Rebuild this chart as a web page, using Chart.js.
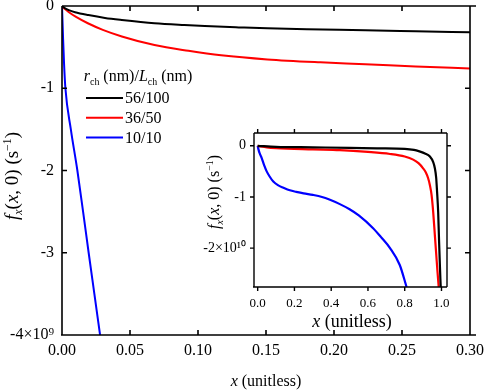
<!DOCTYPE html>
<html>
<head>
<meta charset="utf-8">
<script src="https://cdn.jsdelivr.net/npm/chart.js@4.4.1/dist/chart.umd.min.js"></script>
<style>
html, body { margin: 0; padding: 0; background: #fff; }
#wrap { position: relative; width: 484px; height: 392px; }
#main { position: absolute; left: 0; top: 0; }
#inset { position: absolute; left: 180px; top: 120px; }
</style>
</head>
<body>
<div id="wrap">
  <canvas id="main" width="484" height="392"></canvas>
  <canvas id="inset" width="290" height="215"></canvas>
</div>
<script>
// series: r_ch (nm) / L_ch (nm)
var seriesLabels = ['56/100', '36/50', '10/10'];
var seriesColors = ['#000000', '#ff0000', '#0000ff'];

// main panel, y in units of 1e9 s^-1
var mainX_56 = [0, 0.002, 0.005, 0.0096, 0.0194, 0.0316, 0.044, 0.068, 0.09, 0.105, 0.13, 0.151, 0.18, 0.223, 0.26, 0.30];
var mainY_56 = [0, -0.025, -0.05, -0.075, -0.11, -0.145, -0.17, -0.21, -0.232, -0.244, -0.26, -0.272, -0.282, -0.295, -0.307, -0.32];
var mainX_36 = [0, 0.002, 0.0046, 0.01, 0.019, 0.03, 0.044, 0.068, 0.093, 0.117, 0.151, 0.19, 0.223, 0.26, 0.30];
var mainY_36 = [0, -0.035, -0.07, -0.13, -0.21, -0.29, -0.37, -0.475, -0.545, -0.60, -0.65, -0.685, -0.707, -0.735, -0.76];
var mainX_10 = [0, 0.0008, 0.0015, 0.0025, 0.0065, 0.0113, 0.0155, 0.0196, 0.0238, 0.028];
var mainY_10 = [0, -0.4, -0.7, -1.0, -1.5, -2.0, -2.5, -3.0, -3.5, -4.0];

var mainXTicks = [0, 0.05, 0.10, 0.15, 0.20, 0.25, 0.30];
var mainXTickLabels = ['0.00', '0.05', '0.10', '0.15', '0.20', '0.25', '0.30'];
var mainYTicks = [0, -1, -2, -3, -4];
var mainYTickLabels = ['0', '-1', '-2', '-3', '-4×10⁹'];

// inset panel, y in units of 1e10 s^-1
var insetX_56 = [0, 0.1, 0.3, 0.5, 0.65, 0.8, 0.85, 0.88, 0.91, 0.937, 0.955, 0.964, 0.971, 0.976, 0.982, 0.987, 0.991, 0.994, 0.996];
var insetY_56 = [0, -0.02, -0.03, -0.04, -0.05, -0.06, -0.08, -0.11, -0.15, -0.21, -0.32, -0.44, -0.62, -0.9, -1.3, -1.88, -2.3, -2.6, -2.76];
var insetX_36 = [0, 0.05, 0.1, 0.3, 0.447, 0.6, 0.72, 0.8, 0.846, 0.875, 0.9, 0.915, 0.927, 0.937, 0.946, 0.955, 0.964, 0.972, 0.978, 0.985];
var insetY_36 = [0, -0.03, -0.045, -0.07, -0.085, -0.12, -0.16, -0.21, -0.27, -0.34, -0.44, -0.52, -0.63, -0.77, -0.96, -1.3, -1.75, -2.15, -2.45, -2.76];
var insetX_10 = [0, 0.005, 0.01, 0.022, 0.035, 0.049, 0.065, 0.085, 0.11, 0.14, 0.175, 0.21, 0.25, 0.30, 0.35, 0.39, 0.447, 0.5, 0.55, 0.628, 0.67, 0.72, 0.773, 0.81];
var insetY_10 = [0, -0.08, -0.14, -0.24, -0.38, -0.50, -0.60, -0.70, -0.77, -0.82, -0.87, -0.90, -0.93, -0.96, -1.0, -1.05, -1.14, -1.24, -1.36, -1.61, -1.78, -2.0, -2.33, -2.76];

var insetXTicks = [0, 0.2, 0.4, 0.6, 0.8, 1.0];
var insetXTickLabels = ['0.0', '0.2', '0.4', '0.6', '0.8', '1.0'];
var insetYTicks = [0, -1, -2];
var insetYTickLabels = ['0', '-1', '-2×10¹⁰'];

var SERIF = '"Liberation Serif", "Times New Roman", serif';

function pts(xs, ys) {
  return xs.map(function (x, i) { return { x: x, y: ys[i] }; });
}

function makeSets(xsList, ysList, width) {
  return xsList.map(function (xs, i) {
    return {
      label: seriesLabels[i],
      data: pts(xs, ysList[i]),
      borderColor: seriesColors[i],
      borderWidth: width,
      pointRadius: 0,
      fill: false,
      cubicInterpolationMode: 'monotone'
    };
  });
}

// draws text made of plain / italic / sub / sup pieces, centred on x
function drawRich(ctx, segs, x, y, size, rot) {
  var parts = segs.map(function (s) {
    var small = s[1].indexOf('sub') >= 0 || s[1].indexOf('sup') >= 0;
    var fs = small ? size * 0.62 : size;
    var font = (s[1].indexOf('i') === 0 ? 'italic ' : '') + fs + 'px ' + SERIF;
    ctx.font = font;
    var dy = s[1].indexOf('sub') >= 0 ? size * 0.22 : (s[1].indexOf('sup') >= 0 ? -size * 0.4 : 0);
    return { t: s[0], font: font, w: ctx.measureText(s[0]).width, dy: dy };
  });
  var total = parts.reduce(function (a, p) { return a + p.w; }, 0);
  ctx.save();
  ctx.translate(x, y);
  ctx.rotate(rot || 0);
  ctx.fillStyle = '#000';
  ctx.textBaseline = 'alphabetic';
  ctx.textAlign = 'left';
  var cx = -total / 2;
  parts.forEach(function (p) {
    ctx.font = p.font;
    ctx.fillText(p.t, cx, size * 0.33 + p.dy);
    cx += p.w;
  });
  ctx.restore();
}

var framePlugin = {
  id: 'frame',
  afterDraw: function (chart, args, o) {
    var ctx = chart.ctx, a = chart.chartArea;
    var xs = chart.scales.x, ys = chart.scales.y;
    var d = o.inward ? 1 : -1, L = o.len;
    ctx.save();
    ctx.strokeStyle = '#000';
    ctx.lineWidth = o.lw;
    ctx.beginPath();
    ctx.moveTo(a.left, a.top); ctx.lineTo(a.right + o.extend, a.top);
    ctx.moveTo(a.left - 1, a.bottom); ctx.lineTo(a.right + o.extend, a.bottom);
    ctx.moveTo(a.left, a.top); ctx.lineTo(a.left, a.bottom);
    ctx.moveTo(a.right, a.top); ctx.lineTo(a.right, a.bottom);
    xs.ticks.forEach(function (t) {
      var p = xs.getPixelForValue(t.value);
      ctx.moveTo(p, a.bottom); ctx.lineTo(p, a.bottom - d * L);
      ctx.moveTo(p, a.top); ctx.lineTo(p, a.top + d * L);
    });
    ys.ticks.forEach(function (t) {
      var p = ys.getPixelForValue(t.value);
      ctx.moveTo(a.left, p); ctx.lineTo(a.left + d * L, p);
      ctx.moveTo(a.right, p); ctx.lineTo(a.right - d * L, p);
    });
    ctx.stroke();
    ctx.restore();
  }
};

var titlesPlugin = {
  id: 'titles',
  afterDraw: function (chart, args, o) {
    (o.items || []).forEach(function (it) {
      drawRich(chart.ctx, it.segs, it.x, it.y, it.size, it.rot);
    });
  }
};

var legendPlugin = {
  id: 'innerLegend',
  afterDraw: function (chart, args, o) {
    if (!o.show) return;
    var ctx = chart.ctx;
    var title = [['r', 'i'], ['ch', 'sub'], [' (nm)/', ''], ['L', 'i'], ['ch', 'sub'], [' (nm)', '']];
    drawRich(ctx, title, o.x + 52, o.y, 16, 0);
    chart.data.datasets.forEach(function (ds, i) {
      var y = o.y + 22 + i * 19.8;
      ctx.save();
      ctx.strokeStyle = ds.borderColor;
      ctx.lineWidth = 2;
      ctx.beginPath();
      ctx.moveTo(o.x, y); ctx.lineTo(o.x + 37, y);
      ctx.stroke();
      ctx.fillStyle = '#000';
      ctx.font = '16px ' + SERIF;
      ctx.textBaseline = 'middle';
      ctx.textAlign = 'left';
      ctx.fillText(ds.label, o.x + 39, y + 1);
      ctx.restore();
    });
  }
};

function axis(min, max, ticks, labels, size, pad, fitKey, fitVal) {
  return {
    type: 'linear',
    min: min,
    max: max,
    grid: { display: false, drawTicks: false },
    border: { display: false },
    afterBuildTicks: function (s) { s.ticks = ticks.map(function (v) { return { value: v }; }); },
    ticks: {
      autoSkip: false,
      maxRotation: 0,
      padding: pad,
      color: '#000',
      font: { family: SERIF, size: size },
      callback: function (v, i) { return labels[i]; }
    },
    afterFit: function (s) {
      s[fitKey] = fitVal;
      s.paddingLeft = 0; s.paddingRight = 0; s.paddingTop = 0; s.paddingBottom = 0;
    }
  };
}

var yTitle = [['f', 'i'], ['x', 'isub'], ['(', ''], ['x', 'i'], [', 0) (s', ''], ['−1', 'sup'], [')', '']];
var xTitle = [['x', 'i'], [' (unitless)', '']];

new Chart(document.getElementById('main'), {
  type: 'line',
  data: { datasets: makeSets([mainX_56, mainX_36, mainX_10], [mainY_56, mainY_36, mainY_10], 2) },
  options: {
    responsive: false,
    devicePixelRatio: 1,
    animation: false,
    layout: { padding: { top: 6, right: 14, left: 0, bottom: 0 } },
    scales: {
      x: axis(0, 0.3, mainXTicks, mainXTickLabels, 16, 6, 'height', 57),
      y: axis(-4, 0, mainYTicks, mainYTickLabels, 16, 8, 'width', 62)
    },
    plugins: {
      legend: { display: false },
      tooltip: { enabled: false },
      frame: { inward: true, len: 5, lw: 1.6, extend: 6 },
      innerLegend: { show: true, x: 86, y: 76 },
      titles: {
        items: [
          { segs: yTitle, x: 12, y: 176, size: 19, rot: -Math.PI / 2 },
          { segs: xTitle, x: 266, y: 381, size: 16, rot: 0 }
        ]
      }
    }
  },
  plugins: [framePlugin, titlesPlugin, legendPlugin]
});

new Chart(document.getElementById('inset'), {
  type: 'line',
  data: { datasets: makeSets([insetX_56, insetX_36, insetX_10], [insetY_56, insetY_36, insetY_10], 2.2) },
  options: {
    responsive: false,
    devicePixelRatio: 1,
    animation: false,
    layout: { padding: { top: 13, right: 23, left: 0, bottom: 0 } },
    scales: {
      x: axis(-0.02, 1.03, insetXTicks, insetXTickLabels, 13, 9, 'height', 48),
      y: axis(-2.76, 0.25, insetYTicks, insetYTickLabels, 14, 8, 'width', 74)
    },
    plugins: {
      legend: { display: false },
      tooltip: { enabled: false },
      frame: { inward: false, len: 4, lw: 1.4, extend: 0 },
      innerLegend: { show: false },
      titles: {
        items: [
          { segs: yTitle, x: 34, y: 72, size: 16, rot: -Math.PI / 2 },
          { segs: xTitle, x: 172, y: 201, size: 18, rot: 0 }
        ]
      }
    }
  },
  plugins: [framePlugin, titlesPlugin, legendPlugin]
});
</script>
</body>
</html>
